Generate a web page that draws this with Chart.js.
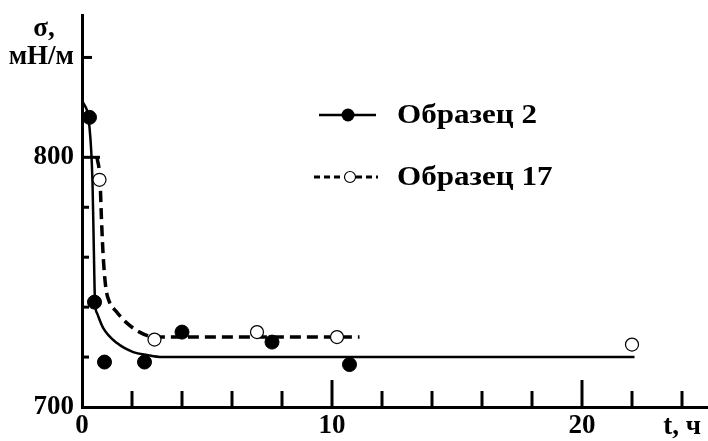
<!DOCTYPE html>
<html>
<head>
<meta charset="utf-8">
<script src="https://cdn.jsdelivr.net/npm/chart.js@4"></script>
<style>
  body { margin: 0; background: #fff; }
  #wrap { width: 708px; height: 441px; }
</style>
</head>
<body>
<div id="wrap"><canvas id="chart" width="708" height="441"></canvas></div>
<script>
const s2Time = [0.3, 0.5, 0.9, 2.5, 4.0, 7.6, 10.7];
const s2Sigma = [816, 742, 718, 718, 730, 726, 717];
const s17Time = [0.7, 2.9, 7.0, 10.2, 22.0];
const s17Sigma = [791, 727, 730, 728, 725];

// hand-drawn trend curves
const fit2Time = [0, 0.3, 0.42, 0.47, 0.52, 0.6, 0.85, 1.4, 2.05, 2.6, 3.2, 22.1];
const fit2Sigma = [823, 812, 790, 765, 742, 737.6, 731.6, 725.6, 722, 720.8, 720, 720];
const fit17Time = [0.6, 0.72, 0.78, 0.85, 0.95, 1.1, 1.35, 1.8, 2.3, 2.9, 11.1];
const fit17Sigma = [800, 791, 775, 760, 748, 742, 738.5, 733.6, 730, 728, 728];

// axis ticks
const xTickValues = [0, 2, 4, 6, 8, 10, 12, 14, 16, 18, 20, 22, 24];
const xTickLabels = { 0: '0', 10: '10', 20: '20' };
const xAxisName = 't, ч';      // sits under the 24 tick
const yTickValues = [700, 720, 740, 760, 780, 800, 840];
const yTickLabels = { 700: '700', 800: '800', 840: 'мН/м' };
const yAxisName = 'σ,';

const seriesNames = ['Образец 2', 'Образец 17'];

const FONT = '"Liberation Serif", "Times New Roman", serif';

function toXY(xs, ys) {
  return xs.map((x, i) => ({ x: x, y: ys[i] }));
}

// widened bold text, the scan's lettering is broader than Liberation Serif
function wideText(ctx, text, x, y, sx) {
  ctx.save();
  ctx.translate(x, y);
  ctx.scale(sx, 1);
  ctx.fillText(text, 0, 0);
  ctx.restore();
}

// ticks pointing into the plot, legend and the axis names
const extras = {
  id: 'extras',
  afterDraw(chart) {
    const { ctx, chartArea, scales: { x, y } } = chart;
    ctx.save();
    ctx.strokeStyle = '#000';
    ctx.lineWidth = 3;
    xTickValues.forEach(v => {
      if (v === 0) return;
      const px = x.getPixelForValue(v);
      const len = v % 10 === 0 ? 27 : 16;
      ctx.beginPath();
      ctx.moveTo(px, chartArea.bottom);
      ctx.lineTo(px, chartArea.bottom - len);
      ctx.stroke();
    });
    yTickValues.forEach(v => {
      if (v === 700) return;
      const py = y.getPixelForValue(v);
      const len = v === 800 ? 18 : (v === 840 ? 10 : 7);
      ctx.beginPath();
      ctx.moveTo(chartArea.left, py);
      ctx.lineTo(chartArea.left + len, py);
      ctx.stroke();
    });

    // axis names
    ctx.fillStyle = '#000';
    ctx.font = 'bold 27px ' + FONT;
    ctx.textAlign = 'center';
    ctx.textBaseline = 'middle';
    ctx.fillText(yAxisName, 44, 29);
    ctx.fillText(xAxisName, x.getPixelForValue(24), chartArea.bottom + 20);

    // legend
    ctx.textAlign = 'left';
    // row 1
    ctx.lineWidth = 2.5;
    ctx.setLineDash([]);
    ctx.beginPath();
    ctx.moveTo(319, 115);
    ctx.lineTo(376, 115);
    ctx.stroke();
    ctx.beginPath();
    ctx.arc(348, 115, 6.5, 0, Math.PI * 2);
    ctx.fill();
    wideText(ctx, seriesNames[0], 397, 116, 1.15);
    // row 2
    ctx.lineWidth = 3;
    ctx.setLineDash([6, 4]);
    ctx.beginPath();
    ctx.moveTo(314, 177);
    ctx.lineTo(344, 177);
    ctx.moveTo(356, 177);
    ctx.lineTo(378, 177);
    ctx.stroke();
    ctx.setLineDash([]);
    ctx.lineWidth = 1.2;
    ctx.fillStyle = '#fff';
    ctx.beginPath();
    ctx.arc(350, 177, 5.5, 0, Math.PI * 2);
    ctx.fill();
    ctx.stroke();
    ctx.fillStyle = '#000';
    wideText(ctx, seriesNames[1], 397, 178, 1.15);
    ctx.restore();
  }
};

new Chart(document.getElementById('chart'), {
  type: 'scatter',
  data: {
    datasets: [
      {
        label: seriesNames[0],
        data: toXY(s2Time, s2Sigma),
        showLine: false,
        pointRadius: 7,
        pointBackgroundColor: '#000',
        pointBorderColor: '#000',
        order: 0
      },
      {
        label: seriesNames[1],
        data: toXY(s17Time, s17Sigma),
        showLine: false,
        pointRadius: 6.5,
        pointBackgroundColor: '#fff',
        pointBorderColor: '#000',
        pointBorderWidth: 1.2,
        order: 0
      },
      {
        label: 'fit 2',
        data: toXY(fit2Time, fit2Sigma),
        showLine: true,
        pointRadius: 0,
        borderColor: '#000',
        borderWidth: 2.5,
        cubicInterpolationMode: 'monotone',
        order: 1
      },
      {
        label: 'fit 17',
        data: toXY(fit17Time, fit17Sigma),
        showLine: true,
        pointRadius: 0,
        borderColor: '#000',
        borderWidth: 3.5,
        borderDash: [11, 6],
        cubicInterpolationMode: 'monotone',
        order: 1
      }
    ]
  },
  options: {
    responsive: false,
    animation: false,
    // no extra room for the big markers, the x axis runs to the edge
    layout: { autoPadding: false, padding: { top: 15, right: 1, left: 0, bottom: 0 } },
    plugins: { legend: { display: false }, tooltip: { enabled: false } },
    scales: {
      x: {
        type: 'linear',
        min: 0,
        max: 25,
        afterBuildTicks: s => { s.ticks = xTickValues.map(v => ({ value: v })); },
        afterFit: s => { s.height = 34; },
        grid: { display: false, drawTicks: false },
        border: { display: true, color: '#000', width: 3 },
        ticks: {
          autoSkip: false,
          maxRotation: 0,
          padding: 3,
          color: '#000',
          font: { family: FONT, size: 27, weight: 'bold' },
          callback: v => xTickLabels[v] || ''
        }
      },
      y: {
        type: 'linear',
        min: 700,
        max: 857,
        afterBuildTicks: s => { s.ticks = yTickValues.map(v => ({ value: v })); },
        afterFit: s => { s.width = 82; s.paddingTop = 0; s.paddingBottom = 0; },
        grid: { display: false, drawTicks: false },
        border: { display: true, color: '#000', width: 3 },
        ticks: {
          autoSkip: false,
          padding: 8,
          color: '#000',
          font: { family: FONT, size: 27, weight: 'bold' },
          callback: v => yTickLabels[v] || ''
        }
      }
    }
  },
  plugins: [extras]
});
</script>
</body>
</html>
